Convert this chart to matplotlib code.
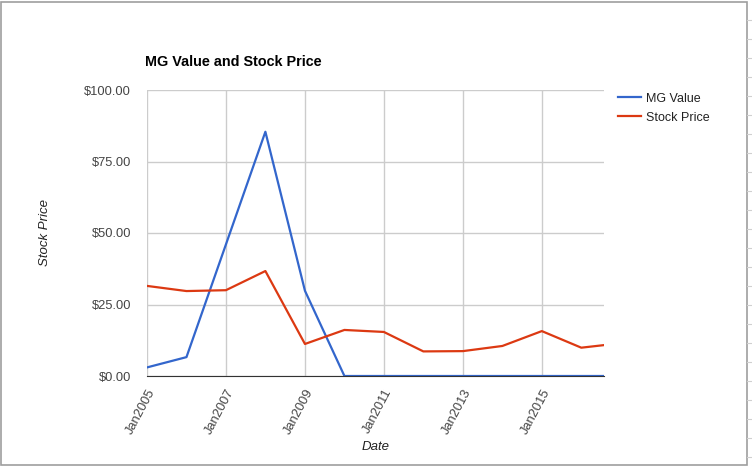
import datetime as dt
import matplotlib.pyplot as plt
import matplotlib.dates as mdates
from matplotlib.lines import Line2D
from matplotlib.patches import Rectangle

plt.rcParams['font.family'] = ['Liberation Sans', 'DejaVu Sans']

dates = [dt.date(y, 1, 1) for y in range(2005, 2017)] + [dt.date(2016, 7, 29)]
mg_value = [3.0, 6.6, 46.0, 85.4, 29.8, 0, 0, 0, 0, 0, 0, 0, 0]
stock_price = [31.5, 29.7, 30.0, 36.7, 11.2, 16.1, 15.4, 8.6, 8.7, 10.5, 15.7, 9.9, 10.8]
tick_years = [2005, 2007, 2009, 2011, 2013, 2015]

fig = plt.figure(figsize=(7.52, 4.70), dpi=100)
ax = fig.add_axes([147/752, 1 - 376/470, (604 - 147)/752, (376 - 90)/470])

ax.plot(dates, mg_value, color='#3366cc', lw=1.6, label='MG Value')
ax.plot(dates, stock_price, color='#dc3912', lw=1.6, label='Stock Price')

ax.set_xlim(dates[0], dates[-1])
ax.set_ylim(0, 100)
ax.set_yticks([0, 25, 50, 75, 100])
ax.set_yticklabels([f'${v:.2f}' for v in [0, 25, 50, 75, 100]])
ax.set_xticks([dt.date(y, 1, 1) for y in tick_years])
ax.xaxis.set_major_formatter(mdates.DateFormatter('Jan%Y'))
plt.setp(ax.get_xticklabels(), rotation=62, ha='right', rotation_mode='anchor')

ax.grid(True, color='#cccccc', lw=1)
ax.set_axisbelow(True)
for s in ['top', 'right', 'left']:
    ax.spines[s].set_visible(False)
ax.spines['bottom'].set_color('#333333')
ax.tick_params(length=0, labelsize=9.3, colors='#444444')
ax.tick_params(axis='y', pad=11.5)
ax.tick_params(axis='x', pad=8)

ax.set_xlabel('Date', style='italic', fontsize=9.5, color='#222222', labelpad=3)
ax.set_ylabel('Stock Price', style='italic', fontsize=9.5, color='#222222', labelpad=24)
fig.text(145/752, 1 - 62/470, 'MG Value and Stock Price', fontsize=10.4, fontweight='bold',
         va='center', ha='left', color='#000000')

ax.legend(loc='upper left', bbox_to_anchor=(1.005, 1.03), frameon=False, fontsize=9,
          handlelength=1.9, handletextpad=0.4, labelspacing=0.55, labelcolor='#222222')

# screenshot frame
fig.add_artist(Rectangle((0.5/752, 1 - 465/470), 746.5/752, 463/470, transform=fig.transFigure,
                         fill=False, ec='#9e9e9e', lw=1.2))
for y in range(20, 465, 19):
    fig.add_artist(Line2D([747/752, 1], [1 - y/470] * 2, transform=fig.transFigure,
                          color='#d0d0d0', lw=0.8))

fig.savefig('out.png', dpi=100)
